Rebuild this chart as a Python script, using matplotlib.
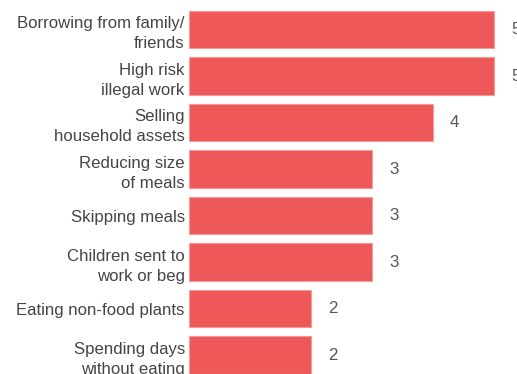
import matplotlib
matplotlib.use("Agg")
import matplotlib.pyplot as plt

categories = [
    "Borrowing from family/\nfriends",
    "High risk\nillegal work",
    "Selling\nhousehold assets",
    "Reducing size\nof meals",
    "Skipping meals",
    "Children sent to\nwork or beg",
    "Eating non-food plants",
    "Spending days\nwithout eating",
]
values = [5, 5, 4, 3, 3, 3, 2, 2]

W, H, DPI = 517, 374, 100
fig = plt.figure(figsize=(W / DPI, H / DPI), dpi=DPI)
fig.patch.set_facecolor("white")

left_px = 189
ax = fig.add_axes([left_px / W, 0, 1 - left_px / W, 1])

unit_px = 61.0
pitch_px = 46.5
first_center_px = 29.5

ypos = list(range(len(categories)))
ax.barh(ypos, values, height=0.8, color="#EE5859",
        edgecolor="#F59A9A", linewidth=0.8)

ax.set_xlim(0, (W - left_px) / unit_px)
ax.set_ylim((H - first_center_px) / pitch_px, -first_center_px / pitch_px)

ax.set_yticks(ypos)
ax.set_yticklabels(categories, fontsize=12.1, color="#454545",
                   family="Liberation Sans", linespacing=1.45)
ax.tick_params(axis="y", length=0, pad=3)
ax.set_xticks([])
for s in ax.spines.values():
    s.set_visible(False)

for y, v in zip(ypos, values):
    ax.annotate(str(v), xy=(v, y), xytext=(17, 0), textcoords="offset pixels",
                va="center", ha="left", fontsize=12.1, color="#555555",
                family="Liberation Sans", annotation_clip=False)

fig.savefig("out.png", dpi=DPI)
